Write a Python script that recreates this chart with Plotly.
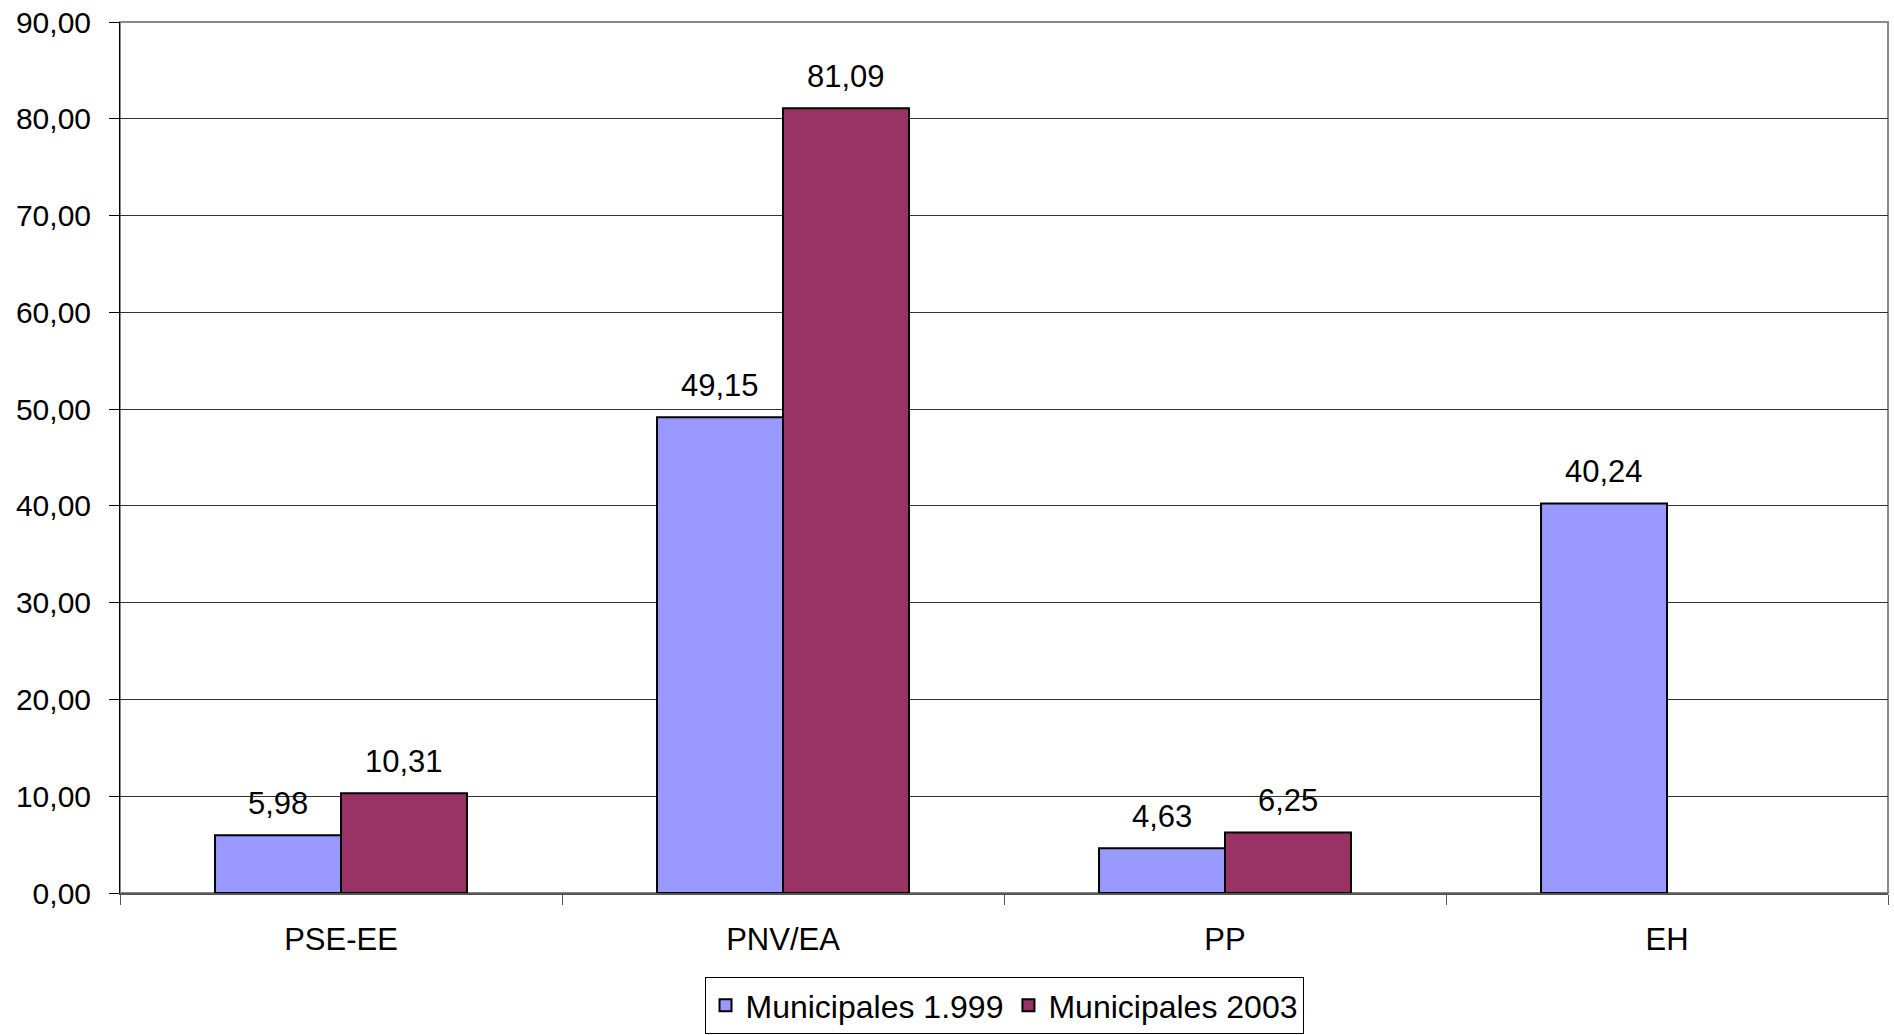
import plotly.graph_objects as go

categories = ["PSE-EE", "PNV/EA", "PP", "EH"]
series_names = ["Municipales 1.999", "Municipales 2003"]
values_1999 = [5.98, 49.15, 4.63, 40.24]
values_2003 = [10.31, 81.09, 6.25, None]
y_ticks = [0, 10, 20, 30, 40, 50, 60, 70, 80, 90]

colors = ["#9999FF", "#993366"]
FONT = "Liberation Sans, Arial, sans-serif"
FS = 31
BARGAP = 0.43

fig = go.Figure()
for name, vals, col in zip(series_names, [values_1999, values_2003], colors):
    fig.add_trace(go.Bar(
        x=categories, y=vals, name=name,
        marker=dict(color=col, line=dict(color="black", width=2)),
    ))

# data labels
bar_w = (1 - BARGAP) / 2
for si, vals in enumerate([values_1999, values_2003]):
    off = (si - 0.5) * bar_w
    for ci, v in enumerate(vals):
        if v is None:
            continue
        fig.add_annotation(
            x=ci + off, y=v, xref="x", yref="y",
            text=f"{v:.2f}".replace(".", ","),
            showarrow=False, yanchor="middle", yshift=32,
            font=dict(family=FONT, size=FS, color="black"),
        )

# plot area border (top/right gray)
fig.add_shape(type="rect", xref="paper", yref="paper", x0=0, x1=1, y0=0, y1=1,
              line=dict(color="#888888", width=2), layer="below")

fig.update_layout(
    width=1894, height=1035,
    margin=dict(l=120, r=6, t=22, b=142, pad=0, autoexpand=False),
    paper_bgcolor="white", plot_bgcolor="white",
    barmode="group", bargap=BARGAP, bargroupgap=0,
    separators=",.",
    font=dict(family=FONT, size=FS, color="black"),
    showlegend=True,
    legend=dict(
        orientation="h", xref="paper", yref="container",
        x=0.5, xanchor="center", y=0.001, yanchor="bottom",
        bordercolor="black", borderwidth=1, bgcolor="white",
        font=dict(family=FONT, size=32, color="black"),
        itemwidth=30, tracegroupgap=0,
    ),
)
fig.update_yaxes(
    range=[0, 90], tickvals=y_ticks, tickformat=".2f",
    showgrid=True, gridcolor="#333333", gridwidth=1,
    ticks="outside", ticklen=10, tickcolor="black", tickwidth=1,
    showline=True, linecolor="black", linewidth=1,
    zeroline=False, ticklabelstandoff=12, automargin=False,
    tickfont=dict(family=FONT, size=30, color="black"),
)
fig.update_xaxes(
    tickson="boundaries", ticks="outside", ticklen=10, tickcolor="#555555",
    showline=True, linecolor="#555555", linewidth=2,
    showgrid=False, ticklabelstandoff=18, automargin=False,
    tickfont=dict(family=FONT, size=FS, color="black"),
)

fig.write_html("out.html", config={"displayModeBar": False},
               post_script="document.body.style.margin='0';")
